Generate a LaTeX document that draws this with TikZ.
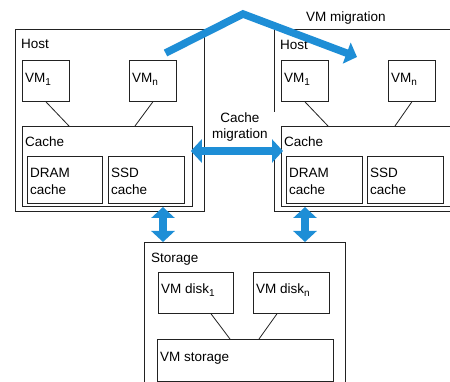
\documentclass[tikz,border=0pt]{standalone}
\usepackage{fontspec}
\setmainfont{Liberation Sans}
\usetikzlibrary{arrows.meta,calc}
\definecolor{arrowblue}{HTML}{1E8ED6}
\definecolor{boxline}{HTML}{222222}
\newcommand{\mysub}[1]{\raisebox{-2.5pt}{\fontsize{10}{10}\selectfont #1}}
\begin{document}
\begin{tikzpicture}[x=1pt,y=-1pt,
  box/.style={draw=boxline, line width=0.8pt, rectangle, inner sep=0pt, anchor=north west, fill=white},
  txt/.style={anchor=base west, inner sep=0pt, font=\fontsize{13.5}{16.5}\selectfont},
  conn/.style={draw=boxline, line width=0.8pt},
  bigarrow/.style={draw=arrowblue, line width=8pt},
  dbl/.style={bigarrow, {Triangle[width=23pt,length=11pt]}-{Triangle[width=23pt,length=11pt]}},
  sgl/.style={bigarrow, line width=7.5pt, line join=miter, -{Triangle[width=22pt,length=11pt]}}
]
\useasboundingbox (0,0) rectangle (450,382);
\clip (0,0) rectangle (450,382);

% ---------- left host ----------
\node[box, minimum width=189pt, minimum height=182pt] (hostL) at (15,29) {};
\node[txt] (hostLt) at ($(hostL.north west)+(6,20)$) {Host};
\node[box, minimum width=47pt, minimum height=41pt] (vm1L) at (22,60) {};
\node[txt] (vm1Lt) at ($(vm1L.north west)+(3,23)$) {VM\mysub{1}};
\node[box, minimum width=47pt, minimum height=41pt] (vmnL) at (129,60) {};
\node[txt] (vmnLt) at ($(vmnL.north west)+(3,23)$) {VM\mysub{n}};
\node[box, minimum width=170pt, minimum height=80pt] (cacheL) at (22,126) {};
\node[txt] (cacheLt) at ($(cacheL.north west)+(3,21)$) {Cache};
\node[box, minimum width=75pt, minimum height=47pt] (dramL) at (27,156) {};
\node[txt] (dramLt1) at ($(dramL.north west)+(3,22)$) {DRAM};
\node[txt] (dramLt2) at ($(dramL.north west)+(3,39)$) {cache};
\node[box, minimum width=76pt, minimum height=47pt] (ssdL) at (108,156) {};
\node[txt] (ssdLt1) at ($(ssdL.north west)+(3,22)$) {SSD};
\node[txt] (ssdLt2) at ($(ssdL.north west)+(3,39)$) {cache};
\draw[conn] (vm1L.south) -- ($(cacheL.north west)+(47,0)$);
\draw[conn] (vmnL.south) -- ($(cacheL.north west)+(113,0)$);

% ---------- right host ----------
\node[box, minimum width=200pt, minimum height=182pt] (hostR) at (274,29) {};
\node[txt] (hostRt) at ($(hostR.north west)+(6,21)$) {Host};
\node[box, minimum width=47pt, minimum height=41pt] (vm1R) at (281,60) {};
\node[txt] (vm1Rt) at ($(vm1R.north west)+(3,23)$) {VM\mysub{1}};
\node[box, minimum width=47pt, minimum height=41pt] (vmnR) at (388,60) {};
\node[txt] (vmnRt) at ($(vmnR.north west)+(3,23)$) {VM\mysub{n}};
\node[box, minimum width=185pt, minimum height=80pt] (cacheR) at (281,126) {};
\node[txt] (cacheRt) at ($(cacheR.north west)+(3,21)$) {Cache};
\node[box, minimum width=76pt, minimum height=47pt] (dramR) at (286,156) {};
\node[txt] (dramRt1) at ($(dramR.north west)+(3,22)$) {DRAM};
\node[txt] (dramRt2) at ($(dramR.north west)+(3,39)$) {cache};
\node[box, minimum width=76pt, minimum height=47pt] (ssdR) at (367,156) {};
\node[txt] (ssdRt1) at ($(ssdR.north west)+(3,22)$) {SSD};
\node[txt] (ssdRt2) at ($(ssdR.north west)+(3,39)$) {cache};
\draw[conn] (vm1R.south) -- ($(cacheR.north west)+(47,0)$);
\draw[conn] (vmnR.south) -- ($(cacheR.north west)+(114,0)$);

% ---------- storage ----------
\node[box, minimum width=201pt, minimum height=150pt] (stor) at (144,242) {};
\node[txt] (stort) at ($(stor.north west)+(7,20)$) {Storage};
\node[box, minimum width=75pt, minimum height=41pt] (disk1) at (158,272) {};
\node[txt] (disk1t) at ($(disk1.north west)+(3,22)$) {VM disk\mysub{1}};
\node[box, minimum width=76pt, minimum height=41pt] (diskn) at (253,272) {};
\node[txt] (disknt) at ($(diskn.north west)+(3,22)$) {VM disk\mysub{n}};
\node[box, minimum width=176pt, minimum height=42pt] (vmst) at (157,339) {};
\node[txt] (vmstt) at ($(vmst.north west)+(3,22)$) {VM storage};
\draw[conn] ($(disk1.south west)+(53,0)$) -- ($(vmst.north west)+(73,0)$);
\draw[conn] ($(diskn.south west)+(24,0)$) -- ($(vmst.north west)+(102,0)$);

% ---------- labels ----------
\node[fill=white, inner sep=1pt, minimum width=70pt, align=center,
      font=\fontsize{13.5}{16}\selectfont] (cmig) at (240,127) {Cache\\migration};
\node[anchor=base, inner sep=0pt, font=\fontsize{13.5}{16.5}\selectfont] (vmmig) at (346,22) {VM migration};

% ---------- arrows ----------
\coordinate (cmA) at ($(cacheL.north east)+(-2,25)$);
\coordinate (cmB) at ($(cacheR.north west)+(2,25)$);
\draw[dbl] (cmA) -- (cmB);

\coordinate (vL1) at (163,207);
\coordinate (vL2) at (163,242);
\draw[dbl] (vL1) -- (vL2);
\coordinate (vR1) at (305,207);
\coordinate (vR2) at (305,242);
\draw[dbl] (vR1) -- (vR2);

\coordinate (vmS) at (165.5,53);
\coordinate (vmP) at (243,14);
\coordinate (vmE) at (357,57);
\draw[sgl] (vmS) -- (vmP) -- (vmE);
\end{tikzpicture}
\end{document}
